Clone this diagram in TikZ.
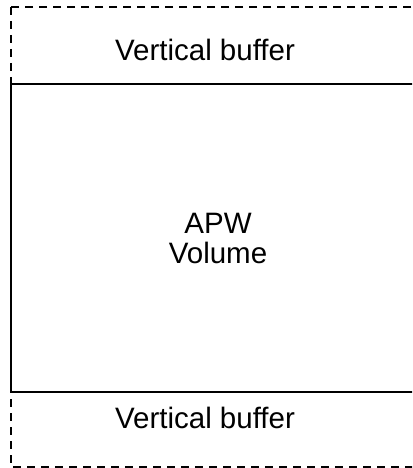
\documentclass[tikz,border=0pt]{standalone}
\usepackage{fontspec}
\setmainfont{Liberation Sans}
\begin{document}
\begin{tikzpicture}[x=1pt,y=-1pt,
  lbl/.style={font=\fontsize{29.5}{30}\selectfont, align=center, inner sep=0pt},
  buf/.style={draw, line width=1.5pt, dash pattern=on 8pt off 6pt},
  vol/.style={draw, line width=1.5pt}]
\useasboundingbox (0,0) rectangle (412,468);
\clip (0,0) rectangle (412,468);
\coordinate (tl) at (11,7);
\coordinate (br) at (430,467);
\draw[buf] (tl) rectangle (br);
\draw[vol] (11,84) rectangle (430,392);
\node[lbl, anchor=base] (top) at (205,61) {Vertical buffer};
\node[lbl, anchor=base] (bot) at (205,428) {Vertical buffer};
\node[lbl, anchor=base] (apw) at (218,263) {APW\\Volume};
\end{tikzpicture}
\end{document}
